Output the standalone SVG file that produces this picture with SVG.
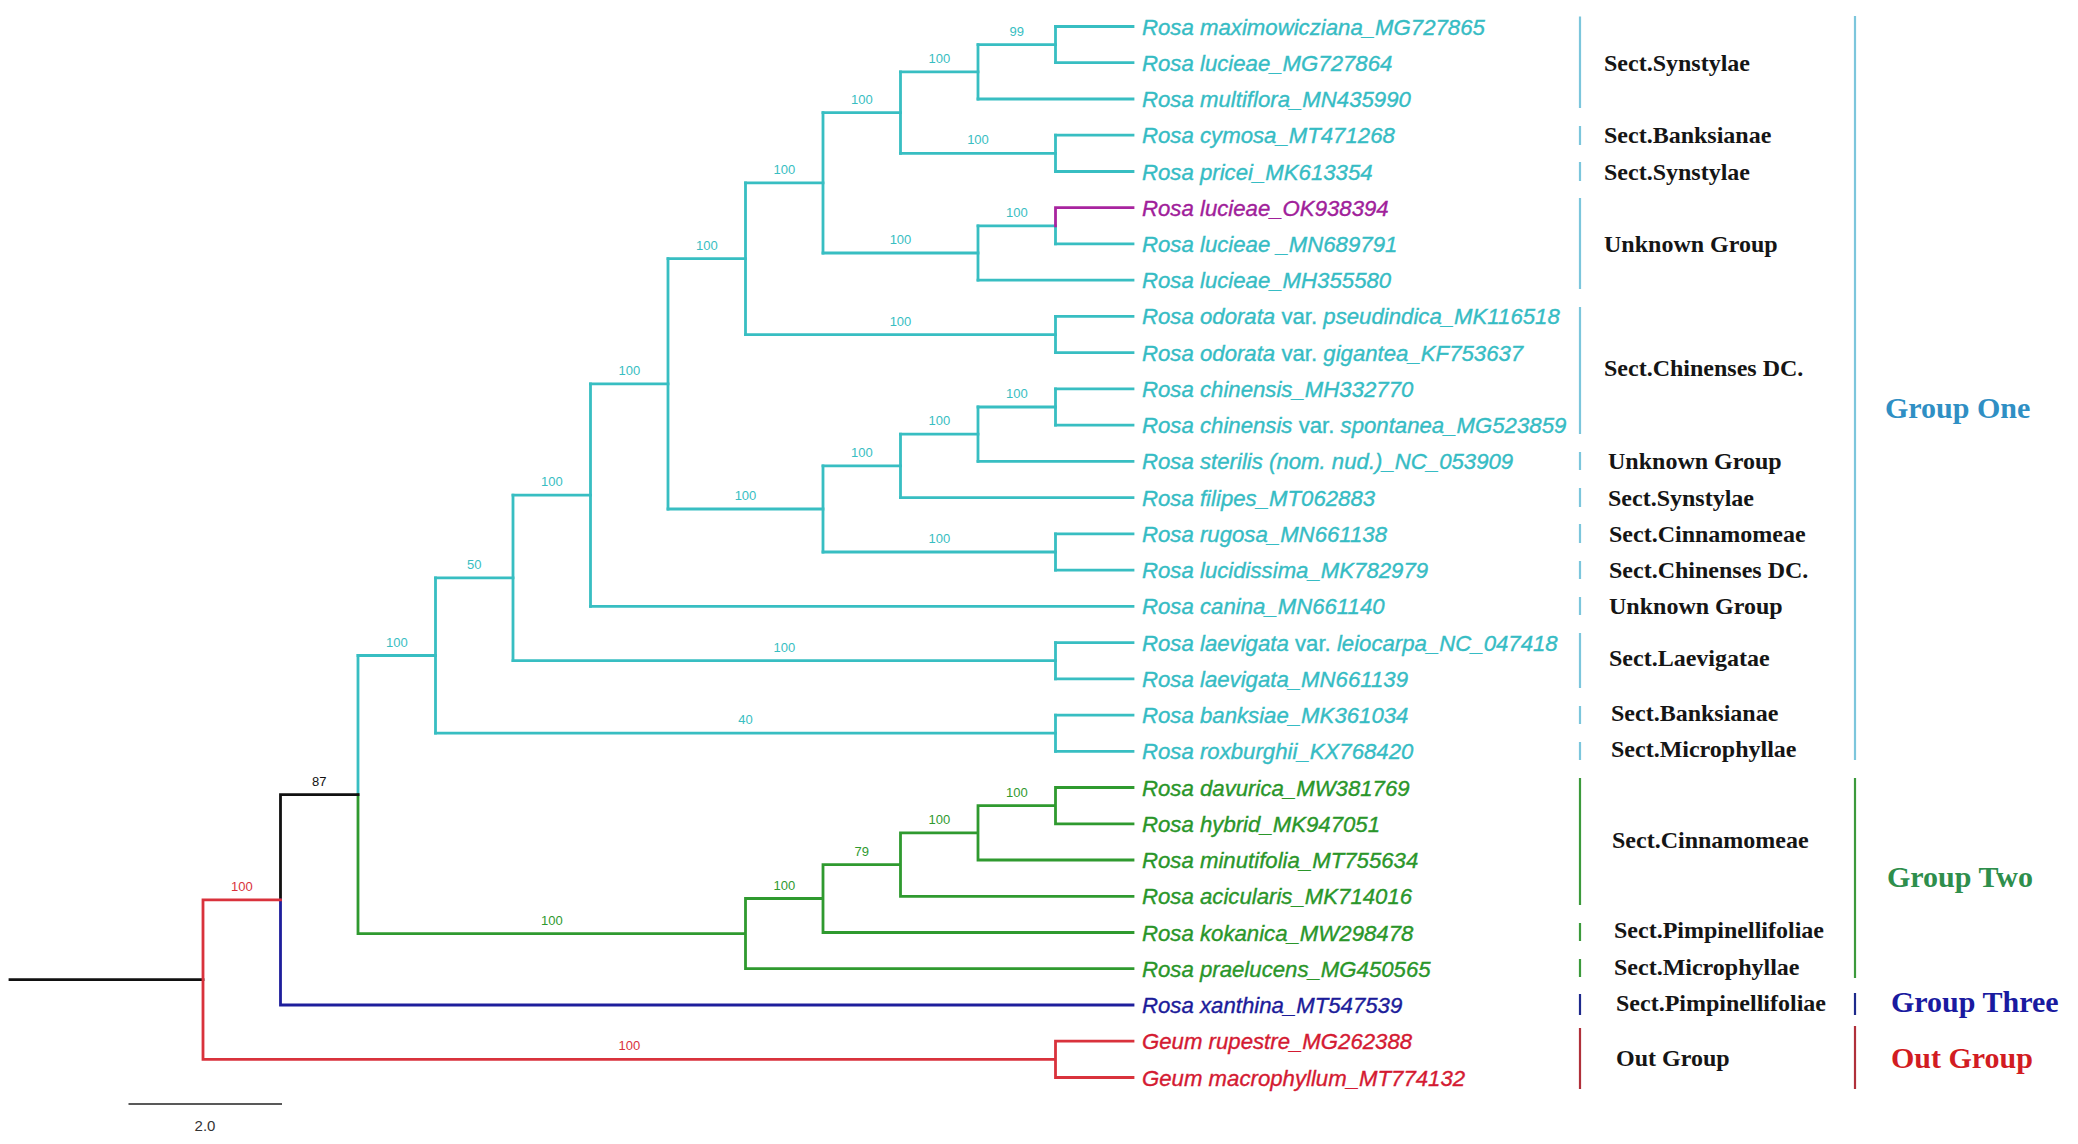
<svg xmlns="http://www.w3.org/2000/svg" width="2078" height="1144" viewBox="0 0 2078 1144">
<style>
.br{fill:none;stroke-width:2.8;stroke-linecap:square}
.cy{stroke:#38BEC2}.gr{stroke:#2F9A2F}.bl{stroke:#1E1E9C}.rd{stroke:#D9323C}.pu{stroke:#A8249F}.bk{stroke:#111}
.tx{font-family:"Liberation Sans",Arial,sans-serif;font-style:italic;font-size:22.2px;stroke-width:0.35}
.up{font-style:normal}
.tc{fill:#36BCC4;stroke:#36BCC4}.tg{fill:#2A962A;stroke:#2A962A}.tb{fill:#1C1C9A;stroke:#1C1C9A}.tr{fill:#D41A32;stroke:#D41A32}.tp{fill:#A0209A;stroke:#A0209A}
.bs{font-family:"Liberation Sans",Arial,sans-serif;font-size:13px;text-anchor:middle}
.sec{font-family:"Liberation Serif","Times New Roman",serif;font-weight:bold;font-size:24px;fill:#151515}
.grp{font-family:"Liberation Serif","Times New Roman",serif;font-weight:bold;font-size:30px}
.brk{fill:none;stroke-width:2.2}
.kc{stroke:#7CC6DC}.kg{stroke:#3C9A3C}.kb{stroke:#1E2A8C}.kr{stroke:#B0303A}
</style>
<rect width="2078" height="1144" fill="#fff"/>
<g id="connectors">
<path class="br cy" d="M1055.5 26.5H1133M1055.5 62.7H1133M978 99H1133M1055.5 135.2H1133M1055.5 171.5H1133M1055.5 243.9H1133M978 280.2H1133M1055.5 316.4H1133M1055.5 352.7H1133M1055.5 388.9H1133M1055.5 425.1H1133M978 461.4H1133M900.5 497.6H1133M1055.5 533.9H1133M1055.5 570.1H1133M590.5 606.3H1133M1055.5 642.6H1133M1055.5 678.8H1133M1055.5 715.1H1133M1055.5 751.3H1133"/>
<path class="br cy" d="M1055.5 26.5V62.7M978 44.6V99M1055.5 135.2V171.5M900.5 71.8V153.4M1055.5 225.8V243.9M978 225.8V280.2M823 112.6V253M1055.5 316.4V352.7M745.5 182.8V334.6M1055.5 388.9V425.1M978 407V461.4M900.5 434.2V497.6M1055.5 533.9V570.1M823 465.9V552M668 258.7V509M590.5 383.8V606.3M1055.5 642.6V678.8M513 495.1V660.7M1055.5 715.1V751.3M435.5 577.9V733.2M358 655.5V794.6"/>
<path class="br cy" d="M978 44.6H1055.5M900.5 71.8H978M900.5 153.4H1055.5M823 112.6H900.5M978 225.8H1055.5M823 253H978M745.5 182.8H823M745.5 334.6H1055.5M668 258.7H745.5M978 407H1055.5M900.5 434.2H978M823 465.9H900.5M823 552H1055.5M668 509H823M590.5 383.8H668M513 495.1H590.5M513 660.7H1055.5M435.5 577.9H513M435.5 733.2H1055.5M358 655.5H435.5"/>
<path class="br pu" d="M1055.5 207.7V225.8M1055.5 207.7H1133"/>
<path class="br gr" d="M1055.5 787.5H1133M1055.5 823.8H1133M978 860H1133M900.5 896.3H1133M823 932.5H1133M745.5 968.7H1133M1055.5 787.5V823.8M978 805.7V860M900.5 832.8V896.3M823 864.6V932.5M745.5 898.5V968.7M358 794.6V933.6M978 805.7H1055.5M900.5 832.8H978M823 864.6H900.5M745.5 898.5H823M358 933.6H745.5"/>
<path class="br bk" d="M280.5 794.6H358M280.5 794.6V899.8"/>
<path class="br bk" stroke-width="3.4" d="M10 979.6H203"/>
<path class="br bl" d="M280.5 899.8V1005M280.5 1005H1133"/>
<path class="br rd" d="M203 899.8H280.5M203 899.8V1059.4M203 1059.4H1055.5M1055.5 1041.2V1077.5M1055.5 1041.2H1133M1055.5 1077.5H1133"/>
</g>
<g id="bootstrap">
<text class="bs" x="241.8" y="890.8" fill="#D9323C">100</text>
<text class="bs" x="319.3" y="785.6" fill="#111">87</text>
<g fill="#38BEC2">
<text class="bs" x="396.8" y="646.5">100</text>
<text class="bs" x="474.3" y="568.9">50</text>
<text class="bs" x="551.8" y="486.1">100</text>
<text class="bs" x="629.3" y="374.8">100</text>
<text class="bs" x="706.8" y="249.7">100</text>
<text class="bs" x="784.3" y="173.8">100</text>
<text class="bs" x="861.8" y="103.6">100</text>
<text class="bs" x="939.3" y="62.8">100</text>
<text class="bs" x="1016.8" y="35.6">99</text>
<text class="bs" x="978" y="144.4">100</text>
<text class="bs" x="900.5" y="244">100</text>
<text class="bs" x="1016.8" y="216.8">100</text>
<text class="bs" x="900.5" y="325.6">100</text>
<text class="bs" x="745.5" y="500">100</text>
<text class="bs" x="861.8" y="456.9">100</text>
<text class="bs" x="939.3" y="425.2">100</text>
<text class="bs" x="1016.8" y="398">100</text>
<text class="bs" x="939.3" y="543">100</text>
<text class="bs" x="784.3" y="651.7">100</text>
<text class="bs" x="745.5" y="724.2">40</text>
</g>
<g fill="#2F9A2F">
<text class="bs" x="551.8" y="924.6">100</text>
<text class="bs" x="784.3" y="889.5">100</text>
<text class="bs" x="861.8" y="855.6">79</text>
<text class="bs" x="939.3" y="823.8">100</text>
<text class="bs" x="1016.8" y="796.7">100</text>
</g>
<text class="bs" x="629.3" y="1050.4" fill="#D9323C">100</text>
</g>
<g id="scalebar">
<path d="M128.5 1104H282" stroke="#222" stroke-width="1.6"/>
<text x="205" y="1131" font-family="Liberation Sans,Arial,sans-serif" font-size="15" text-anchor="middle" fill="#333">2.0</text>
</g>
<g id="taxa">
<g id="t0"><text class="tx tc" x="1142" y="34.5">Rosa maximowicziana_MG727865</text></g>
<g id="t1"><text class="tx tc" x="1142" y="70.7">Rosa lucieae_MG727864</text></g>
<g id="t2"><text class="tx tc" x="1142" y="107">Rosa multiflora_MN435990</text></g>
<g id="t3"><text class="tx tc" x="1142" y="143.2">Rosa cymosa_MT471268</text></g>
<g id="t4"><text class="tx tc" x="1142" y="179.5">Rosa pricei_MK613354</text></g>
<g id="t5"><text class="tx tp" x="1142" y="215.7">Rosa lucieae_OK938394</text></g>
<g id="t6"><text class="tx tc" x="1142" y="251.9">Rosa lucieae _MN689791</text></g>
<g id="t7"><text class="tx tc" x="1142" y="288.2">Rosa lucieae_MH355580</text></g>
<g id="t8"><text class="tx tc" x="1142" y="324.4">Rosa odorata <tspan class="up">var.</tspan> pseudindica_MK116518</text></g>
<g id="t9"><text class="tx tc" x="1142" y="360.7">Rosa odorata <tspan class="up">var.</tspan> gigantea_KF753637</text></g>
<g id="t10"><text class="tx tc" x="1142" y="396.9">Rosa chinensis_MH332770</text></g>
<g id="t11"><text class="tx tc" x="1142" y="433.1">Rosa chinensis <tspan class="up">var.</tspan> spontanea_MG523859</text></g>
<g id="t12"><text class="tx tc" x="1142" y="469.4">Rosa sterilis (nom. nud.)_NC_053909</text></g>
<g id="t13"><text class="tx tc" x="1142" y="505.6">Rosa filipes_MT062883</text></g>
<g id="t14"><text class="tx tc" x="1142" y="541.9">Rosa rugosa_MN661138</text></g>
<g id="t15"><text class="tx tc" x="1142" y="578.1">Rosa lucidissima_MK782979</text></g>
<g id="t16"><text class="tx tc" x="1142" y="614.3">Rosa canina_MN661140</text></g>
<g id="t17"><text class="tx tc" x="1142" y="650.6">Rosa laevigata <tspan class="up">var.</tspan> leiocarpa_NC_047418</text></g>
<g id="t18"><text class="tx tc" x="1142" y="686.8">Rosa laevigata_MN661139</text></g>
<g id="t19"><text class="tx tc" x="1142" y="723.1">Rosa banksiae_MK361034</text></g>
<g id="t20"><text class="tx tc" x="1142" y="759.3">Rosa roxburghii_KX768420</text></g>
<g id="t21"><text class="tx tg" x="1142" y="795.5">Rosa davurica_MW381769</text></g>
<g id="t22"><text class="tx tg" x="1142" y="831.8">Rosa hybrid_MK947051</text></g>
<g id="t23"><text class="tx tg" x="1142" y="868">Rosa minutifolia_MT755634</text></g>
<g id="t24"><text class="tx tg" x="1142" y="904.3">Rosa acicularis_MK714016</text></g>
<g id="t25"><text class="tx tg" x="1142" y="940.5">Rosa kokanica_MW298478</text></g>
<g id="t26"><text class="tx tg" x="1142" y="976.7">Rosa praelucens_MG450565</text></g>
<g id="t27"><text class="tx tb" x="1142" y="1013">Rosa xanthina_MT547539</text></g>
<g id="t28"><text class="tx tr" x="1142" y="1049.2">Geum rupestre_MG262388</text></g>
<g id="t29"><text class="tx tr" x="1142" y="1085.5">Geum macrophyllum_MT774132</text></g>
</g>
<g id="sections">
<path class="brk kc" d="M1580 16.5V108M1580 126V145M1580 162V181M1580 198V289M1580 307V434M1580 452V470M1580 488V507M1580 524V543M1580 561V579M1580 597V615M1580 633V688M1580 706V724M1580 742V760"/>
<path class="brk kg" d="M1580 778V905M1580 923V941M1580 959V977"/>
<path class="brk kb" d="M1580 994V1015"/>
<path class="brk kr" d="M1580 1028V1089"/>
<g id="s0"><text class="sec" x="1604" y="71">Sect.Synstylae</text></g>
<g id="s1"><text class="sec" x="1604" y="143">Sect.Banksianae</text></g>
<g id="s2"><text class="sec" x="1604" y="180">Sect.Synstylae</text></g>
<g id="s3"><text class="sec" x="1604" y="252">Unknown Group</text></g>
<g id="s4"><text class="sec" x="1604" y="376">Sect.Chinenses DC.</text></g>
<g id="s5"><text class="sec" x="1608" y="469">Unknown Group</text></g>
<g id="s6"><text class="sec" x="1608" y="506">Sect.Synstylae</text></g>
<g id="s7"><text class="sec" x="1609" y="542">Sect.Cinnamomeae</text></g>
<g id="s8"><text class="sec" x="1609" y="578">Sect.Chinenses DC.</text></g>
<g id="s9"><text class="sec" x="1609" y="614">Unknown Group</text></g>
<g id="s10"><text class="sec" x="1609" y="666">Sect.Laevigatae</text></g>
<g id="s11"><text class="sec" x="1611" y="721">Sect.Banksianae</text></g>
<g id="s12"><text class="sec" x="1611" y="757">Sect.Microphyllae</text></g>
<g id="s13"><text class="sec" x="1612" y="848">Sect.Cinnamomeae</text></g>
<g id="s14"><text class="sec" x="1614" y="938">Sect.Pimpinellifoliae</text></g>
<g id="s15"><text class="sec" x="1614" y="975">Sect.Microphyllae</text></g>
<g id="s16"><text class="sec" x="1616" y="1011">Sect.Pimpinellifoliae</text></g>
<g id="s17"><text class="sec" x="1616" y="1066">Out Group</text></g>
</g>
<g id="groups">
<path class="brk kc" d="M1855 16V760"/>
<path class="brk kg" d="M1855 778V978"/>
<path class="brk kb" d="M1855 993V1015"/>
<path class="brk kr" d="M1855 1026V1089"/>
<g id="g1"><text class="grp" x="1885" y="418" fill="#2F8FC4">Group One</text></g>
<g id="g2"><text class="grp" x="1887" y="887" fill="#2E8E4C">Group Two</text></g>
<g id="g3"><text class="grp" x="1891" y="1012" fill="#1A1AA0">Group Three</text></g>
<g id="g4"><text class="grp" x="1891" y="1068" fill="#D21C22">Out Group</text></g>
</g>
</svg>
